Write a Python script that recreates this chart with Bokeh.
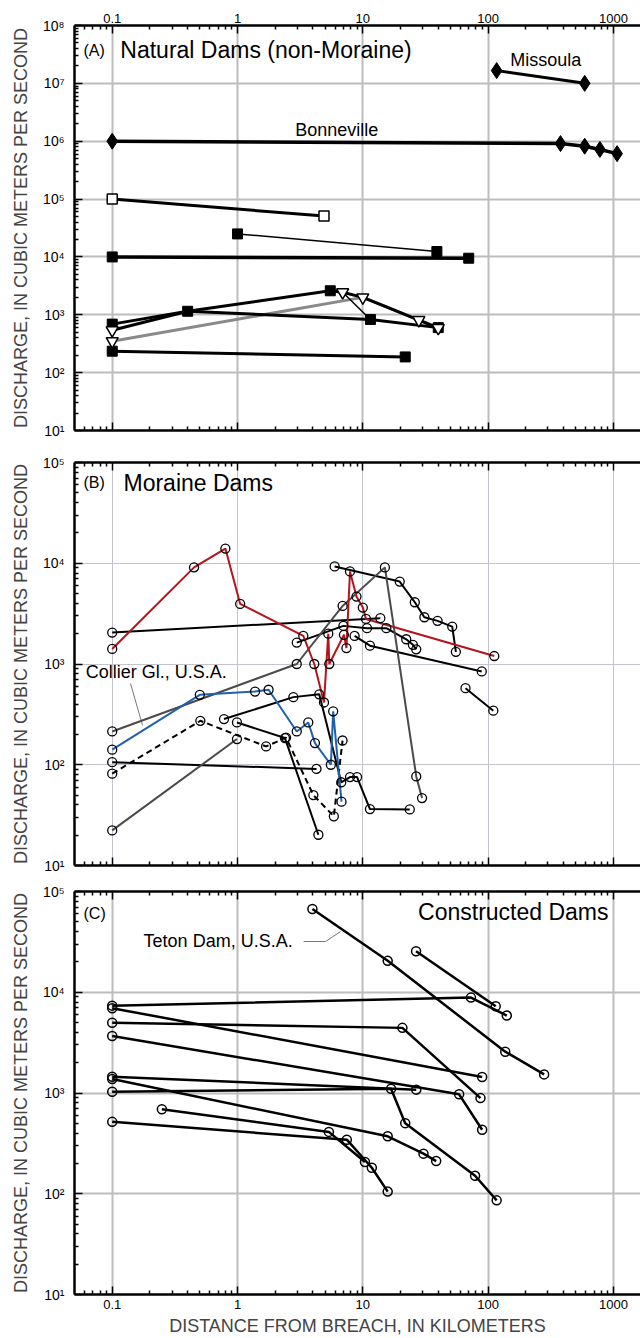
from bokeh.plotting import figure
from bokeh.models import LogAxis, FixedTicker, Label
from bokeh.layouts import column
from bokeh.embed import file_html
from bokeh.resources import INLINE

# ---------------- data ----------------
# Panel A: Natural dams (non-moraine)
missoula_x = [117, 590]
missoula_y = [1.66e7, 1.0e7]
bonneville_x = [0.1, 378, 590, 780, 1070]
bonneville_y = [1.0e6, 9.1e5, 8.2e5, 7.2e5, 6.1e5]
opensq_x = [0.1, 4.9]
opensq_y = [1.0e5, 5.1e4]
thin_a_x = [1.0, 39]
thin_a_y = [2.5e4, 1.24e4]
flat_a_x = [0.1, 70]
flat_a_y = [1.0e4, 9.5e3]
a_l1_x = [0.1, 0.4, 5.5]
a_l1_y = [690, 1150, 2600]
a_l2_x = [0.1, 0.4, 11.5, 40]
a_l2_y = [540, 1150, 830, 600]
a_l3_x = [6.9, 11.5]
a_l3_y = [2450, 830]
a_l4_x = [5.5, 6.9, 10, 28, 40]
a_l4_y = [2600, 2450, 2000, 810, 590]
a_gray_x = [0.1, 10, 40]
a_gray_y = [350, 2000, 600]
a_low_x = [0.1, 21.8]
a_low_y = [235, 187]
a_sq_x = [0.1, 0.4, 5.5, 11.5, 40]
a_sq_y = [690, 1150, 2600, 830, 600]
a_tri_x = [0.1, 0.1, 6.9, 10, 28, 40]
a_tri_y = [540, 350, 2450, 2000, 810, 590]

# Panel B: Moraine dams
red_x = [0.1, 0.45, 0.8, 1.05, 3.35, 4.1, 4.9, 5.3, 5.4, 7.07, 7.4, 7.9, 8.9, 10.0, 10.6, 112]
red_y = [1410, 9100, 14000, 3950, 1900, 1000, 415, 2000, 1000, 1950, 1440, 8300, 4670, 3630, 2800, 1200]
blue_x = [0.1, 0.5, 1.38, 1.77, 2.97, 3.67, 4.15, 5.56, 5.8, 6.76]
blue_y = [141, 494, 533, 555, 214, 263, 164, 100, 339, 43]
gray1_x = [0.1, 2.97, 6.9, 15, 26.7, 29.7]
gray1_y = [214, 1000, 3770, 9100, 76.6, 46.7]
gray2_x = [0.1, 0.99]
gray2_y = [22.3, 180]
dash_x = [0.1, 0.505, 1.69, 2.44, 4.03, 5.87, 6.89]
dash_y = [81.5, 273, 152, 186, 50, 30.8, 174]
b1_x = [0.1, 13.8]
b1_y = [2050, 2850]
b2_x = [5.96, 19.7, 26, 31, 39.5, 51.7, 55.3]
b2_y = [9300, 6580, 4100, 2910, 2680, 2350, 1320]
b3_x = [2.97, 7.0, 10.8, 15.4, 22.2, 25.1, 26.7]
b3_y = [1630, 2390, 2270, 2270, 1760, 1550, 1400]
b4_x = [8.6, 11.4, 89]
b4_y = [1900, 1520, 843]
b5_x = [66, 110]
b5_y = [575, 344]
b6_x = [0.78, 2.79, 4.49, 6.73, 7.9, 9.0, 11.4, 23.7]
b6_y = [284, 469, 500, 67, 75.5, 75.5, 36.3, 36]
b7_x = [0.99, 2.39, 4.42]
b7_y = [263, 184, 20.2]
b8_x = [0.1, 4.27]
b8_y = [106, 91]

# Panel C: Constructed dams
c1_x = [3.96, 15.8, 137, 280]          # Teton Dam
c1_y = [67000, 20500, 2570, 1530]
c2_x = [26.6, 115]
c2_y = [25500, 7260]
c3_x = [0.1, 73, 141]
c3_y = [7360, 8850, 5870]
c4_x = [0.1, 89.6]
c4_y = [6950, 1440]
c5_x = [0.1, 20.7, 86.9]
c5_y = [4990, 4430, 890]
c6_x = [0.1, 58.7, 89.6]
c6_y = [3680, 970, 432]
c7_x = [0.1, 26.7]
c7_y = [1450, 1080]
c8_x = [0.1, 15.8, 30.5, 38.5]
c8_y = [1375, 372, 250, 211]
c9_x = [0.1, 16.8, 21.8, 78.7, 117]
c9_y = [1030, 1100, 502, 151, 86]
c10_x = [0.249, 5.36, 10.4]
c10_y = [690, 411, 207]
c11_x = [0.1, 7.45, 11.8, 15.8]
c11_y = [517, 344, 181, 105]

x_major = [0.1, 1, 10, 100, 1000]
x_labels = ["0.1", "1", "10", "100", "1000"]
SUP = {1: "\u00b9", 2: "\u00b2", 3: "\u00b3", 4: "\u2074", 5: "\u2075",
       6: "\u2076", 7: "\u2077", 8: "\u2078"}

FONT = "Liberation Sans"
RED = "#b3141d"
BLUE = "#2160ad"
DGRAY = "#4a4a4a"

XR = (0.05, 1645)


def minor(lo_exp, hi_exp, lo, hi):
    out = []
    for k in range(lo_exp, hi_exp + 1):
        for m in range(2, 10):
            v = m * 10.0 ** k
            if lo < v < hi:
                out.append(v)
    return out


def style_axis(ax, ticker, labels=None, show=True, size="13px"):
    ax.ticker = ticker
    ax.axis_line_width = 2.5
    ax.axis_line_color = "black"
    ax.major_tick_in = 8
    ax.major_tick_out = 0
    ax.minor_tick_in = 4
    ax.minor_tick_out = 0
    ax.major_tick_line_width = 1.5
    ax.minor_tick_line_width = 1.5
    ax.major_tick_line_color = "black"
    ax.minor_tick_line_color = "black"
    if labels is not None:
        ax.major_label_overrides = labels
    if show:
        ax.major_label_text_font = FONT
        ax.major_label_text_font_size = size
        ax.major_label_text_color = "black"
    else:
        ax.major_label_text_font_size = "1px"
        ax.major_label_text_color = None
        ax.major_label_standoff = 0


def make_fig(ymax_exp, frame_h, top_b, bot_b, top_labels, bottom_labels, grid_w, grid_c):
    yr = (10, 10.0 ** ymax_exp)
    p = figure(x_axis_type="log", y_axis_type="log", x_range=XR, y_range=yr,
               frame_width=566, frame_height=frame_h,
               min_border_left=74, min_border_right=0,
               min_border_top=top_b, min_border_bottom=bot_b,
               output_backend="svg", toolbar_location=None)
    p.outline_line_color = None
    p.background_fill_color = "white"
    p.border_fill_color = "white"

    xt = FixedTicker(ticks=x_major, minor_ticks=minor(-2, 3, XR[0], XR[1]))
    ymaj = [10.0 ** k for k in range(1, ymax_exp + 1)]
    yt = FixedTicker(ticks=ymaj, minor_ticks=minor(1, ymax_exp, yr[0], yr[1]))
    xlab = {v: s for v, s in zip(x_major, x_labels)}
    ylab = {10.0 ** k: "10" + SUP[k] for k in range(1, ymax_exp + 1)}

    top = LogAxis()
    p.add_layout(top, "above")
    style_axis(top, xt, xlab, show=top_labels, size="13px")
    if top_labels:
        top.major_label_standoff = 3
    for ax in p.below:
        style_axis(ax, xt, xlab, show=bottom_labels, size="13px")
        if bottom_labels:
            ax.major_label_standoff = 5
            ax.axis_label = "DISTANCE FROM BREACH, IN KILOMETERS"
            ax.axis_label_text_font = FONT
            ax.axis_label_text_font_size = "18px"
            ax.axis_label_text_font_style = "normal"
            ax.axis_label_standoff = 4
    for ax in p.left:
        style_axis(ax, yt, ylab, show=True, size="14px")
        ax.major_label_standoff = 10
        ax.axis_label = "DISCHARGE, IN CUBIC METERS PER SECOND"
        ax.axis_label_text_font = FONT
        ax.axis_label_text_font_size = "18px"
        ax.axis_label_text_font_style = "normal"
        ax.axis_label_standoff = 9

    p.xgrid.ticker = xt
    p.ygrid.ticker = yt
    for g in (p.xgrid, p.ygrid):
        g.grid_line_color = grid_c
        g.grid_line_width = grid_w
    return p


def add_label(p, x, y, text, size, align="left"):
    p.add_layout(Label(x=x, y=y, text=text, text_font=FONT, text_font_size=size,
                       text_align=align, text_baseline="middle", text_color="black"))


# ---------------- Panel A ----------------
pa = make_fig(8, 405, 25, 16, True, False, 2, "#bdbdbd")
pa.line(missoula_x, missoula_y, line_color="black", line_width=3)
pa.scatter(missoula_x, missoula_y, marker="diamond", size=16, fill_color="black", line_color="black")
pa.line(bonneville_x, bonneville_y, line_color="black", line_width=3.5)
pa.scatter(bonneville_x, bonneville_y, marker="diamond", size=16, fill_color="black", line_color="black")
pa.line(opensq_x, opensq_y, line_color="black", line_width=3)
pa.line(thin_a_x, thin_a_y, line_color="black", line_width=1.5)
pa.line(flat_a_x, flat_a_y, line_color="black", line_width=3.5)
pa.line(a_gray_x, a_gray_y, line_color="#8a8a8a", line_width=3)
pa.line(a_l1_x, a_l1_y, line_color="black", line_width=3)
pa.line(a_l2_x, a_l2_y, line_color="black", line_width=3)
pa.line(a_l3_x, a_l3_y, line_color="black", line_width=1.5)
pa.line(a_l4_x, a_l4_y, line_color="black", line_width=3)
pa.line(a_low_x, a_low_y, line_color="black", line_width=3)
pa.scatter(opensq_x, opensq_y, marker="square", size=10, fill_color="white", line_color="black", line_width=1.5)
pa.scatter(thin_a_x, thin_a_y, marker="square", size=10, fill_color="black", line_color="black")
pa.scatter(flat_a_x, flat_a_y, marker="square", size=10, fill_color="black", line_color="black")
pa.scatter(a_sq_x, a_sq_y, marker="square", size=10, fill_color="black", line_color="black")
pa.scatter(a_low_x, a_low_y, marker="square", size=10, fill_color="black", line_color="black")
pa.scatter(a_tri_x, a_tri_y, marker="inverted_triangle", size=12, fill_color="white", line_color="black", line_width=1.5)
add_label(pa, 0.059, 3.7e7, "(A)", "16px")
add_label(pa, 0.116, 3.7e7, "Natural Dams (non-Moraine)", "23px")
add_label(pa, 150, 2.57e7, "Missoula", "18px")
add_label(pa, 6.2, 1.55e6, "Bonneville", "18px", align="center")

# ---------------- Panel B ----------------
pb = make_fig(5, 403, 16, 13, False, False, 1, "#c3c3cb")
circ = dict(marker="circle", size=9, fill_color=None, line_color="black", line_width=1.3)
pb.line([0.14, 0.1746], [640, 246], line_color="#555555", line_width=0.8)
for xs, ys in [(b1_x, b1_y), (b2_x, b2_y), (b3_x, b3_y), (b4_x, b4_y), (b5_x, b5_y),
               (b6_x, b6_y), (b7_x, b7_y), (b8_x, b8_y)]:
    pb.line(xs, ys, line_color="black", line_width=2)
pb.line(gray1_x, gray1_y, line_color=DGRAY, line_width=2)
pb.line(gray2_x, gray2_y, line_color=DGRAY, line_width=2)
pb.line(dash_x, dash_y, line_color="black", line_width=2, line_dash="6 4")
pb.line(blue_x, blue_y, line_color=BLUE, line_width=2)
pb.line(red_x, red_y, line_color=RED, line_width=2)
for xs, ys in [(b1_x, b1_y), (b2_x, b2_y), (b3_x, b3_y), (b4_x, b4_y), (b5_x, b5_y),
               (b6_x, b6_y), (b7_x, b7_y), (b8_x, b8_y), (gray1_x, gray1_y), (gray2_x, gray2_y),
               (dash_x, dash_y), (blue_x, blue_y), (red_x, red_y)]:
    pb.scatter(xs, ys, **circ)
add_label(pb, 0.059, 6.3e4, "(B)", "16px")
add_label(pb, 0.123, 6.3e4, "Moraine Dams", "23px")
add_label(pb, 0.0614, 824, "Collier Gl., U.S.A.", "18px")

# ---------------- Panel C ----------------
pc = make_fig(5, 403, 13, 44, False, True, 2, "#bdbdbd")
pc.line([3.37, 5.05, 6.64], [3.19e4, 3.19e4, 4.0e4], line_color="#555555", line_width=0.8)
circ_c = dict(marker="circle", size=9, fill_color=None, line_color="black", line_width=1.5)
for xs, ys in [(c1_x, c1_y), (c2_x, c2_y), (c3_x, c3_y), (c4_x, c4_y), (c5_x, c5_y),
               (c6_x, c6_y), (c7_x, c7_y), (c8_x, c8_y), (c9_x, c9_y), (c10_x, c10_y),
               (c11_x, c11_y)]:
    pc.line(xs, ys, line_color="black", line_width=2.5)
    pc.scatter(xs, ys, **circ_c)
add_label(pc, 0.059, 6.0e4, "(C)", "16px")
add_label(pc, 914, 6.2e4, "Constructed Dams", "23px", align="right")
add_label(pc, 0.178, 3.19e4, "Teton Dam, U.S.A.", "18px")

layout = column(pa, pb, pc, spacing=0)
open("out.html", "w").write(file_html(layout, INLINE))
